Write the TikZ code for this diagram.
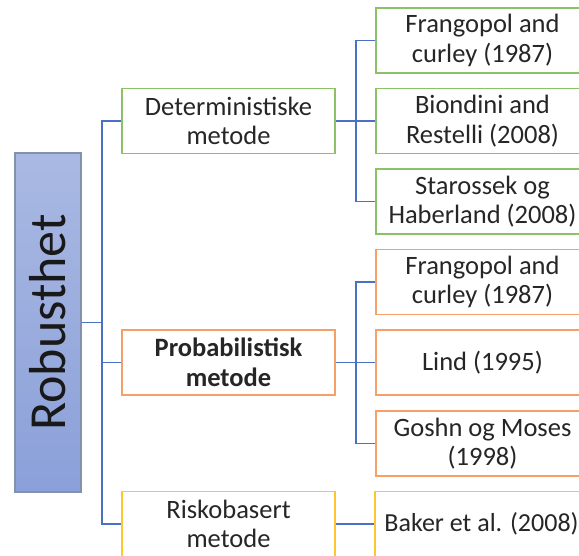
\documentclass[tikz,border=0pt]{standalone}
\usepackage{fontspec}
\setmainfont{Carlito}
\definecolor{cor_green}{HTML}{8CC168}
\definecolor{cor_orange}{HTML}{F4A066}
\definecolor{cor_yellow}{HTML}{FFC52E}
\definecolor{cor_blue}{HTML}{4A72C0}
\definecolor{cor_top}{HTML}{AAB9E3}
\definecolor{cor_bottom}{HTML}{8BA0D9}
\definecolor{cor_edge}{HTML}{8390AE}
\begin{document}
\begin{tikzpicture}[x=1pt,y=-1pt]
        \tikzset{
            caixa/.style={
                draw=#1,
                fill=white,
                line width=1.6pt,
                minimum width=213pt,
                minimum height=65pt,
                inner sep=0pt,
                align=center,
                text=black!85,
                font=\fontsize{26.5}{29.5}\selectfont
            },
            liga/.style={
                draw=cor_blue,
                line width=1.6pt
            }
        }
        \useasboundingbox (0,0) rectangle (579,555);
        \clip (0,0) rectangle (579,555);

        % caixa principal
        \node[draw=cor_edge, line width=1.2pt, top color=cor_top, bottom color=cor_bottom,
              minimum width=66pt, minimum height=339pt] (rob) at (48,322.5) {};
        \node[rotate=90, text=black!90, font=\fontsize{52}{60}\selectfont] (robtxt) at (rob.center) {Robusthet};

        % metodes
        \node[caixa=cor_green] (det) at (228.5,121) {Deterministiske\\metode};
        \node[caixa=cor_orange] (prob) at (228.5,362.5) {\bfseries Probabilistisk\\\bfseries metode};
        \node[caixa=cor_yellow] (risk) at (228.5,524) {Riskobasert\\metode};

        % referanser
        \node[caixa=cor_green] (fc1) at (482.5,40.5) {Frangopol and\\curley (1987)};
        \node[caixa=cor_green] (br) at (482.5,121) {Biondini and\\Restelli (2008)};
        \node[caixa=cor_green] (sh) at (482.5,201.5) {Starossek og\\Haberland (2008)};
        \node[caixa=cor_orange] (fc2) at (482.5,282) {Frangopol and\\curley (1987)};
        \node[caixa=cor_orange] (lind) at (482.5,362.5) {Lind (1995)};
        \node[caixa=cor_orange] (gm) at (482.5,443.5) {Goshn og Moses\\(1998)};
        \node[caixa=cor_yellow, font=\fontsize{26}{29.5}\selectfont] (baker) at (481.5,524) {Baker et al. (2008)};

        % ligacoes
        \coordinate (j0) at (102,322.5);
        \coordinate (j1) at (356,121);
        \coordinate (j2) at (356,362.5);

        \draw[liga] (rob.east) -- (j0);
        \draw[liga] (det.west) -| (j0);
        \draw[liga] (risk.west) -| (j0);
        \draw[liga] (prob.west) -- (prob.west -| j0);

        \draw[liga] (det.east) -- (j1);
        \foreach \n in {fc1,br,sh} {
            \draw[liga] (\n.west) -| (j1);
        }
        \draw[liga] (prob.east) -- (j2);
        \foreach \n in {fc2,lind,gm} {
            \draw[liga] (\n.west) -| (j2);
        }
        \draw[liga] (risk.east) -- (baker.west);

    \end{tikzpicture}
\end{document}
